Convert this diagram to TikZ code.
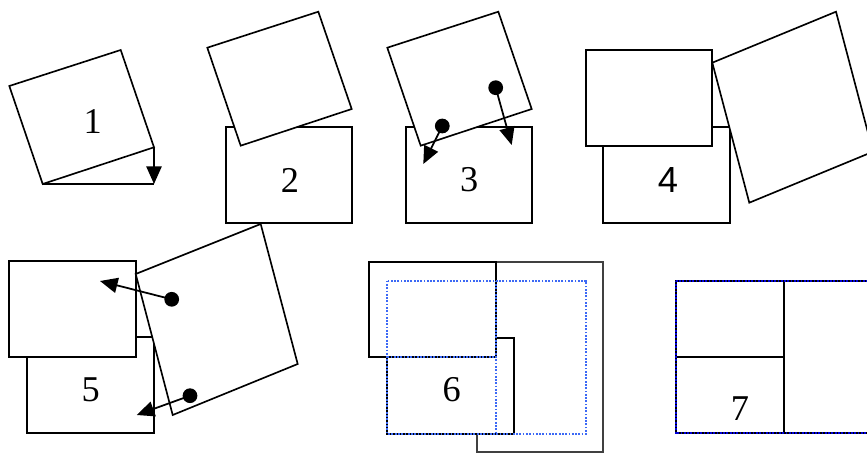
\documentclass[tikz,border=0pt]{standalone}
\usepackage{fontspec}
\setmainfont{Liberation Serif}
\newfontfamily\sansnum{Liberation Sans}
\usetikzlibrary{arrows.meta}
\definecolor{cguide}{RGB}{60,105,245}
\tikzset{
  sheet/.style={draw=black,fill=white,line width=1.4pt,line join=miter},
  edge/.style={draw=black,line width=1.4pt},
  guide/.style={draw=cguide,line width=2pt,dash pattern=on 1.5pt off 1.3pt},
  push/.style={-{Triangle[length=15pt,width=13pt]},line width=1.5pt},
  pin/.style={fill=black},
  num/.style={font=\fontsize{31}{35}\selectfont,inner sep=0pt}
}

\begin{document}
\begin{tikzpicture}[x=0.03cm,y=-0.03cm]
  \useasboundingbox (0,0) rectangle (867,453);
  \clip (0,0) rectangle (867,453);
  % 1: the sheet tips over its corner
  \draw[sheet] (9.3,86) -- (120.7,50) -- (154,147.3) -- (42.7,184) -- cycle;
  \coordinate (c1a) at (154,147.3); \coordinate (c1b) at (154,184);
  \draw[edge] (42.7,184) -- (c1b);
  \draw[push] (c1a) -- (c1b);
  \node[num] (n1) at (92.7,121.7) {1};
  % 2
  \draw[sheet] (225.7,126.7) rectangle (352.3,222.7);
  \draw[sheet] (207.3,47.7) -- (318.3,11.7) -- (351.7,109) -- (240.7,145.7) -- cycle;
  \node[num] (n2) at (290,180) {2};
  % 3
  \draw[sheet] (405.7,126.7) rectangle (532.3,222.7);
  \draw[sheet] (387.3,47.7) -- (498.3,11.7) -- (531.7,109) -- (420.7,145.7) -- cycle;
  \coordinate (d3a) at (495.7,87.7); \coordinate (t3a) at (511.7,145);
  \coordinate (d3b) at (442.3,126);  \coordinate (t3b) at (423.3,164);
  \draw[push] (d3a) -- (t3a);
  \draw[push] (d3b) -- (t3b);
  \fill[pin] (d3a) circle[radius=6.3pt] (d3b) circle[radius=6.3pt];
  \node[num] (n3) at (469.3,180) {3};
  % 4
  \draw[sheet] (603.3,126.7) rectangle (730,222.7);
  \draw[sheet] (585.7,50) rectangle (712.3,145.7);
  \draw[sheet] (712.3,62.7) -- (836,11.7) -- (873,151.7) -- (749.3,202.7) -- cycle;
  \node[num,font=\fontsize{31}{35}\selectfont\sansnum] (n4) at (668,180) {4};
  % 5
  \draw[sheet] (27.3,337.3) rectangle (154,433.3);
  \draw[sheet] (9,261) rectangle (135.7,356.7);
  \draw[sheet] (135.7,274) -- (260.7,224) -- (297.7,364) -- (172.7,415) -- cycle;
  \coordinate (d5a) at (171.7,299.3); \coordinate (t5a) at (100,281);
  \coordinate (d5b) at (190,395.7);   \coordinate (t5b) at (136.7,415);
  \draw[push] (d5a) -- (t5a);
  \draw[push] (d5b) -- (t5b);
  \fill[pin] (d5a) circle[radius=6.3pt] (d5b) circle[radius=6.3pt];
  \node[num] (n5) at (90.7,390) {5};
  % 6: target outline over the three sheets
  \draw[sheet,draw=black!75] (477.3,261.7) rectangle (602.7,452.3);
  \draw[sheet] (387.3,338.3) rectangle (514,434);
  \draw[sheet] (369.3,261.7) rectangle (495.7,357.3);
  \draw[guide] (387.3,280.7) rectangle (586,434);
  \draw[guide] (495.7,280.7) -- (495.7,434);
  \draw[guide] (387.3,357.3) -- (495.7,357.3);
  \node[num] (n6) at (451.7,390) {6};
  % 7
  \draw[sheet] (675.7,280.7) rectangle (880,433.3);
  \draw[edge] (784,280.7) -- (784,433.3);
  \draw[edge] (675.7,357.3) -- (784,357.3);
  \draw[guide,draw=blue!85!black,line width=1.6pt] (675.7,280.7) rectangle (880,433.3);
  \node[num] (n7) at (740,408.3) {7};
\end{tikzpicture}
\end{document}
